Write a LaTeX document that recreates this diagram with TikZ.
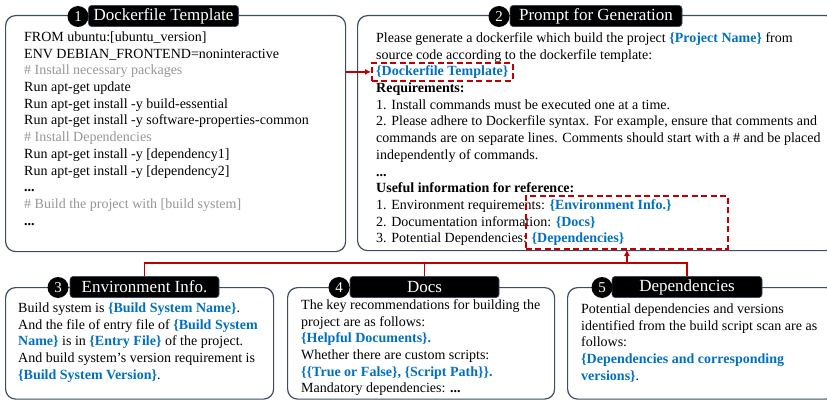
\documentclass[tikz,border=0pt]{standalone}
\usepackage{fontspec}
\setmainfont{Liberation Serif}
\usetikzlibrary{arrows.meta}
\definecolor{bordc}{RGB}{60,76,100}
\definecolor{redc}{RGB}{192,0,0}
\definecolor{bluec}{RGB}{0,112,192}
\definecolor{grayc}{RGB}{150,150,150}
\newcommand{\hl}[1]{\textcolor{bluec}{\textbf{#1}}}
\newcommand{\cm}[1]{\textcolor{grayc}{#1}}
\begin{document}
\begin{tikzpicture}[x=1pt,y=-1pt,
  panel/.style={draw=bordc, line width=1.2pt, rounded corners=10pt, inner sep=0pt, anchor=north west},
  titlebox/.style={fill=black, draw=bordc, line width=0.6pt, rounded corners=3pt, text=white, minimum height=21pt, inner sep=0pt, font=\fontsize{17}{19}\selectfont},
  numc/.style={circle, fill=black, text=white, minimum size=21pt, inner sep=0pt, font=\fontsize{15}{17}\selectfont},
  txt/.style={anchor=north west, inner sep=0pt, align=left, font=\fontsize{14}{16.7}\selectfont},
  dashbox/.style={draw=redc, dash pattern=on 6pt off 3.5pt, line width=1.8pt, inner sep=0pt, anchor=north west},
  redline/.style={draw=redc, line width=1.8pt},
  redarrow/.style={draw=redc, line width=1.8pt, -{Latex[length=6pt,width=6pt]}}
]
\useasboundingbox (0,0) rectangle (827,401);
\clip (0,0) rectangle (827,401);
% panels
\node[panel, minimum width=340pt, minimum height=236pt] (b1) at (5,15) {};
\node[panel, minimum width=478pt, minimum height=235pt] (b2) at (357,15) {};
\node[panel, minimum width=268pt, minimum height=111.5pt] (b3) at (5,287) {};
\node[panel, minimum width=267pt, minimum height=111.5pt] (b4) at (287,287) {};
\node[panel, minimum width=268pt, minimum height=111.5pt] (b5) at (567,287) {};
% titles
\node[titlebox, minimum width=150pt] (t1) at (163.5,16) {Dockerfile Template};
\node[numc] (c1) at (78,16.5) {1};
\node[titlebox, minimum width=172pt] (t2) at (596,16) {Prompt for Generation};
\node[numc] (c2) at (499,16.5) {2};
\node[titlebox, minimum width=149pt] (t3) at (144.5,287) {Environment Info.};
\node[numc] (c3) at (58,287.5) {3};
\node[titlebox, minimum width=149pt] (t4) at (424.5,287) {Docs};
\node[numc] (c4) at (339,287.5) {4};
\node[titlebox, minimum width=150pt] (t5) at (687,287) {Dependencies};
\node[numc] (c5) at (602,287.5) {5};
% texts
\node[txt] (x1) at (24,29.6) {\strut FROM ubuntu:[ubuntu\_version]\\
ENV DEBIAN\_FRONTEND=noninteractive\\
\cm{\# Install necessary packages}\\
Run apt-get update\\
Run apt-get install -y build-essential\\
Run apt-get install -y software-properties-common\\
\cm{\# Install Dependencies}\\
Run apt-get install -y [dependency1]\\
Run apt-get install -y [dependency2]\\
\textbf{...}\\
\cm{\# Build the project with [build system]}\\
\textbf{...}};
\node[txt] (x2) at (376,30.6) {\strut Please generate a dockerfile which build the project \hl{\{Project Name\}} from\\
source code according to the dockerfile template:\\
\hl{\{Dockerfile Template\}}\\
\textbf{Requirements:}\\
1. Install commands must be executed one at a time.\\
2. Please adhere to Dockerfile syntax. For example, ensure that comments and\\
commands are on separate lines. Comments should start with a \# and be placed\\
independently of commands.\\
\textbf{...}\\
\textbf{Useful information for reference:}\\
1. Environment requirements: \hl{\{Environment Info.\}}\\
2. Documentation information: \hl{\{Docs\}}\\
3. Potential Dependencies: \hl{\{Dependencies\}}};
\node[txt] (x3) at (18,300.6) {\strut Build system is \hl{\{Build System Name\}}.\\
And the file of entry file of \hl{\{Build System}\\
\hl{Name\}} is in \hl{\{Entry File\}} of the project.\\
And build system's version requirement is\\
\hl{\{Build System Version\}}.};
\node[txt] (x4) at (301,297.6) {\strut The key recommendations for building the\\
project are as follows:\\
\hl{\{Helpful Documents\}.}\\
Whether there are custom scripts:\\
\hl{\{\{True or False\}, \{Script Path\}\}.}\\
Mandatory dependencies: \textbf{...}};
\node[txt] (x5) at (581,301.6) {\strut Potential dependencies and versions\\
identified from the build script scan are as\\
follows:\\
\hl{\{Dependencies and corresponding}\\
\hl{versions\}}.};
% dashed highlight boxes
\node[dashbox, minimum width=141pt, minimum height=18pt] (d1) at (371,62) {};
\node[dashbox, minimum width=202pt, minimum height=53pt] (d2) at (525,195) {};
% connectors
\coordinate (bus) at (0,263);
\draw[redarrow] (b1.east |- d1.west) -- (d1.west);
\draw[redline] (t3.north) -- (t3.north |- bus) -- (t5.north |- bus) -- (t5.north);
\draw[redline] (t4.north) -- (t4.north |- bus);
\draw[redarrow] (d2.south |- bus) -- (d2.south);
\end{tikzpicture}
\end{document}
